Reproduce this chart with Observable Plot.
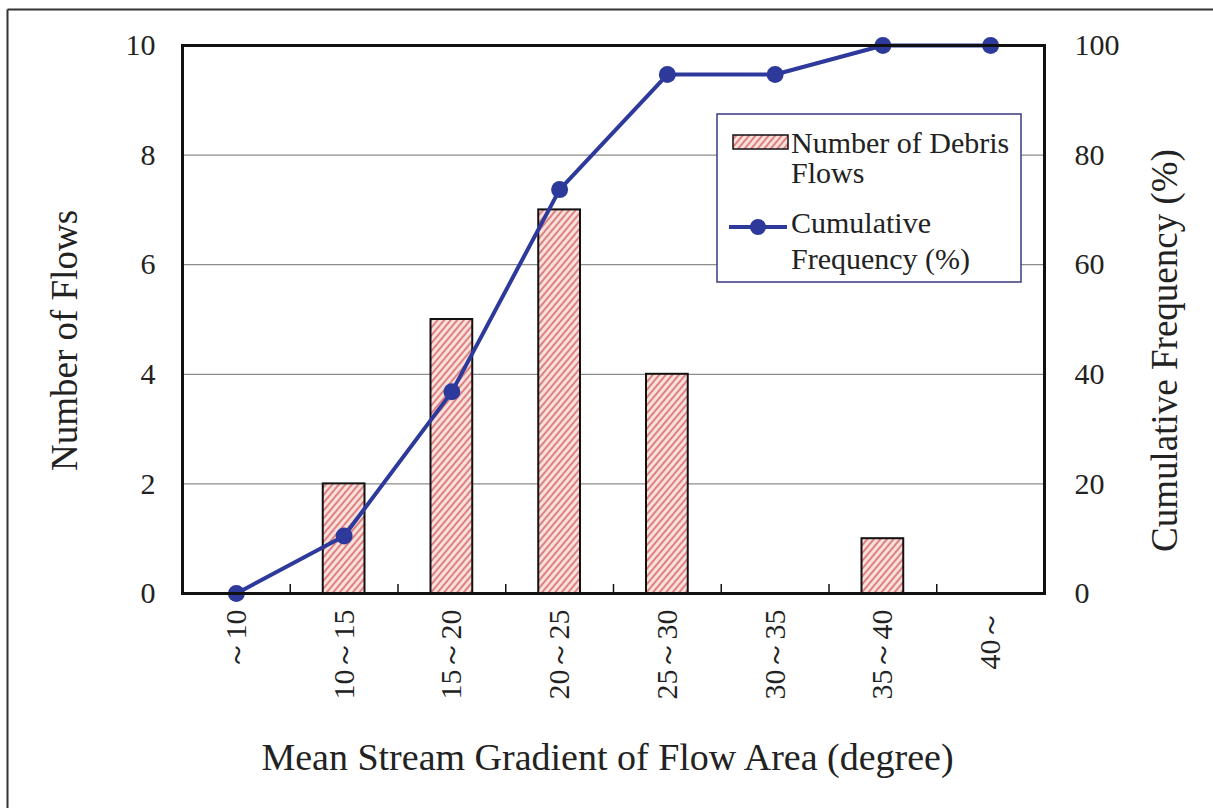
<!DOCTYPE html>
<html><head><meta charset="utf-8">
<script src="https://cdn.jsdelivr.net/npm/d3@7"></script>
<script src="https://cdn.jsdelivr.net/npm/@observablehq/plot@0.6"></script>
<style>body{margin:0;background:#fff;} svg{display:block}</style>
</head><body><div id="chart"></div>
<script>
const categories = ["～10","10～15","15～20","20～25","25～30","30～35","35～40","40～"];
const flowCounts = [0,2,5,7,4,0,1,0];
const cumulativePct = [0,10.5,36.8,73.7,94.7,94.7,100,100];
const leftTicks = [0,2,4,6,8,10];
const rightTickLabels = [0,20,40,60,80,100];
const xTitle = "Mean Stream Gradient of Flow Area (degree)";
const yLeftTitle = "Number of Flows";
const yRightTitle = "Cumulative Frequency (%)";
const legendBarLabel = ["Number of Debris", "Flows"];
const legendLineLabel = ["Cumulative", "Frequency (%)"];

const rows = categories.map((c, i) => ({i, c, count: flowCounts[i], cum: cumulativePct[i]}));
const boundaries = categories.slice(1).map((_, i) => i + 0.5);
const blue = "#2D3A9C";
const font = "'Liberation Serif', 'Times New Roman', serif";

const plot = Plot.plot({
  width: 1213, height: 808,
  marginLeft: 182, marginRight: 169, marginTop: 45, marginBottom: 215,
  style: {fontFamily: font, background: "transparent", color: "#222"},
  x: {type: "linear", domain: [-0.5, categories.length - 0.5]},
  y: {domain: [0, 10]},
  marks: [
    Plot.gridY(leftTicks.slice(1, -1), {stroke: "#8c8c8c", strokeOpacity: 1, strokeWidth: 1.2}),
    Plot.rectY(rows.filter(d => d.count > 0), {
      x1: d => d.i - 0.5, x2: d => d.i + 0.5, y1: d => 0, y2: "count",
      insetLeft: 33, insetRight: 33, fill: "url(#hatch)", stroke: "#111", strokeWidth: 2
    }),
    Plot.ruleX(boundaries, {x: d => d, y1: d => 0, y2: d => 0, insetTop: -9, stroke: "#111", strokeWidth: 1.5}),
    Plot.axisX(rows.map(d => d.i), {tickFormat: i => categories[i], tickRotate: -90, tickSize: 0, tickPadding: 16, fontSize: 30, label: null}),
    Plot.axisY(leftTicks, {anchor: "left", tickSize: 0, tickPadding: 27, fontSize: 30, label: null, tickFormat: d => String(d)}),
    Plot.axisY(leftTicks, {anchor: "right", tickSize: 0, tickPadding: 30, fontSize: 30, label: null,
      tickFormat: d => String(rightTickLabels[leftTicks.indexOf(d)])}),
    Plot.line(rows, {x: "i", y: d => d.cum / 10, stroke: blue, strokeWidth: 4}),
    Plot.dot(rows, {x: "i", y: d => d.cum / 10, r: 8.5, fill: blue, stroke: "none"}),
    Plot.frame({stroke: "#111", strokeWidth: 3}),
    Plot.text([yLeftTitle], {text: d => d, frameAnchor: "left", textAnchor: "middle", lineAnchor: "middle", dx: -117, dy: 21, rotate: -90, fontSize: 37, fill: "#222"}),
    Plot.text([yRightTitle], {text: d => d, frameAnchor: "right", textAnchor: "middle", lineAnchor: "middle", dx: 121, dy: 31, rotate: -90, fontSize: 37, fill: "#222"}),
    Plot.text([xTitle], {text: d => d, frameAnchor: "bottom", textAnchor: "middle", lineAnchor: "middle", dx: -6, dy: 164, fontSize: 38, fill: "#222"})
  ]
});
document.getElementById("chart").appendChild(plot);

const svg = d3.select(plot);
const defs = svg.insert("defs", ":first-child");
const pat = defs.append("pattern").attr("id", "hatch").attr("patternUnits", "userSpaceOnUse")
  .attr("width", 5).attr("height", 5).attr("patternTransform", "rotate(40)");
pat.append("rect").attr("width", 5).attr("height", 5).attr("fill", "#F8E0DC");
pat.append("line").attr("x1", 1).attr("y1", 0).attr("x2", 1).attr("y2", 5).attr("stroke", "#D45A5A").attr("stroke-width", 1.4);

// outer border (top and left edges of the figure box)
svg.append("line").attr("x1", 7.5).attr("y1", 9.5).attr("x2", 1213).attr("y2", 9.5).attr("stroke", "#333").attr("stroke-width", 2);
svg.append("line").attr("x1", 7.5).attr("y1", 9.5).attr("x2", 7.5).attr("y2", 808).attr("stroke", "#333").attr("stroke-width", 2);

// legend
const lg = svg.append("g").attr("font-family", font).attr("font-size", 30).attr("fill", "#222").attr("text-anchor", "start");
lg.append("rect").attr("x", 717).attr("y", 114).attr("width", 304).attr("height", 168)
  .attr("fill", "#fff").attr("stroke", "#3a3a80").attr("stroke-width", 1.5);
lg.append("rect").attr("x", 733).attr("y", 135).attr("width", 55).attr("height", 14)
  .attr("fill", "url(#hatch)").attr("stroke", "#111").attr("stroke-width", 1.5);
lg.append("text").attr("x", 791).attr("y", 153).text(legendBarLabel[0]);
lg.append("text").attr("x", 791).attr("y", 183).text(legendBarLabel[1]);
lg.append("line").attr("x1", 729).attr("x2", 787).attr("y1", 227).attr("y2", 227).attr("stroke", blue).attr("stroke-width", 4);
lg.append("circle").attr("cx", 758).attr("cy", 227).attr("r", 8).attr("fill", blue);
lg.append("text").attr("x", 791).attr("y", 233).text(legendLineLabel[0]);
lg.append("text").attr("x", 791).attr("y", 269).text(legendLineLabel[1]);
</script>
</body></html>
